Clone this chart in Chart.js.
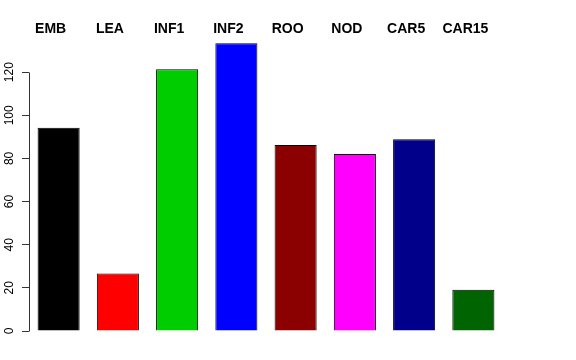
<!DOCTYPE html>
<html>
<head>
<meta charset="utf-8">
<script src="https://cdn.jsdelivr.net/npm/chart.js@4/dist/chart.umd.min.js"></script>
<style>
  html, body { margin: 0; padding: 0; background: #fff; }
  #wrap { width: 576px; height: 360px; }
</style>
</head>
<body>
<div id="wrap"><canvas id="chart"></canvas></div>
<script>
// data
const categories = ['EMB', 'LEA', 'INF1', 'INF2', 'ROO', 'NOD', 'CAR5', 'CAR15'];
const values = [94.2, 26.6, 121.4, 133.4, 86.2, 82.0, 88.9, 19.1];
const barColors = ['#000000', '#FF0000', '#00CD00', '#0000FF', '#8B0000', '#FF00FF', '#00008B', '#006400'];
const yTicks = [0, 20, 40, 60, 80, 100, 120];

// R style axis line: only spans the first to the last tick
const axisLine = {
    id: 'axisLine',
    afterDraw(chart) {
        const y = chart.scales.y;
        const ctx = chart.ctx;
        const x = Math.round(y.right) + 0.5;
        ctx.save();
        ctx.strokeStyle = '#333';
        ctx.lineWidth = 1;
        ctx.beginPath();
        ctx.moveTo(x, Math.round(y.getPixelForValue(yTicks[0])) + 0.5);
        ctx.lineTo(x, Math.round(y.getPixelForValue(yTicks[yTicks.length - 1])) + 0.5);
        ctx.stroke();
        ctx.restore();
    }
};

new Chart(document.getElementById('chart'), {
    type: 'bar',
    data: {
        labels: categories,
        datasets: [{
            data: values,
            backgroundColor: barColors,
            borderColor: '#000',
            borderWidth: 1,
            categoryPercentage: 1,
            barPercentage: 0.71
        }]
    },
    options: {
        responsive: true,
        maintainAspectRatio: false,
        animation: false,
        layout: { padding: { top: 19, right: 73, bottom: 29, left: 0 } },
        plugins: {
            legend: { display: false },
            tooltip: { enabled: false }
        },
        scales: {
            x: {
                position: 'top',
                grid: { display: false, drawTicks: false },
                border: { display: false },
                ticks: {
                    color: '#000',
                    font: { family: 'Liberation Sans', size: 14, weight: 'bold' },
                    padding: 2,
                    labelOffset: -8,
                    maxRotation: 0,
                    autoSkip: false
                }
            },
            y: {
                min: 0,
                max: 135,
                afterFit(scale) { scale.width = 29; },
                afterBuildTicks(scale) { scale.ticks = yTicks.map(v => ({ value: v })); },
                grid: {
                    drawOnChartArea: false,
                    drawTicks: true,
                    tickLength: 7,
                    color: '#333'
                },
                border: { display: false },
                ticks: {
                    color: '#000',
                    font: { family: 'Liberation Sans', size: 12 },
                    minRotation: 90,
                    maxRotation: 90,
                    crossAlign: 'center',
                    padding: 2
                }
            }
        }
    },
    plugins: [axisLine]
});
</script>
</body>
</html>
